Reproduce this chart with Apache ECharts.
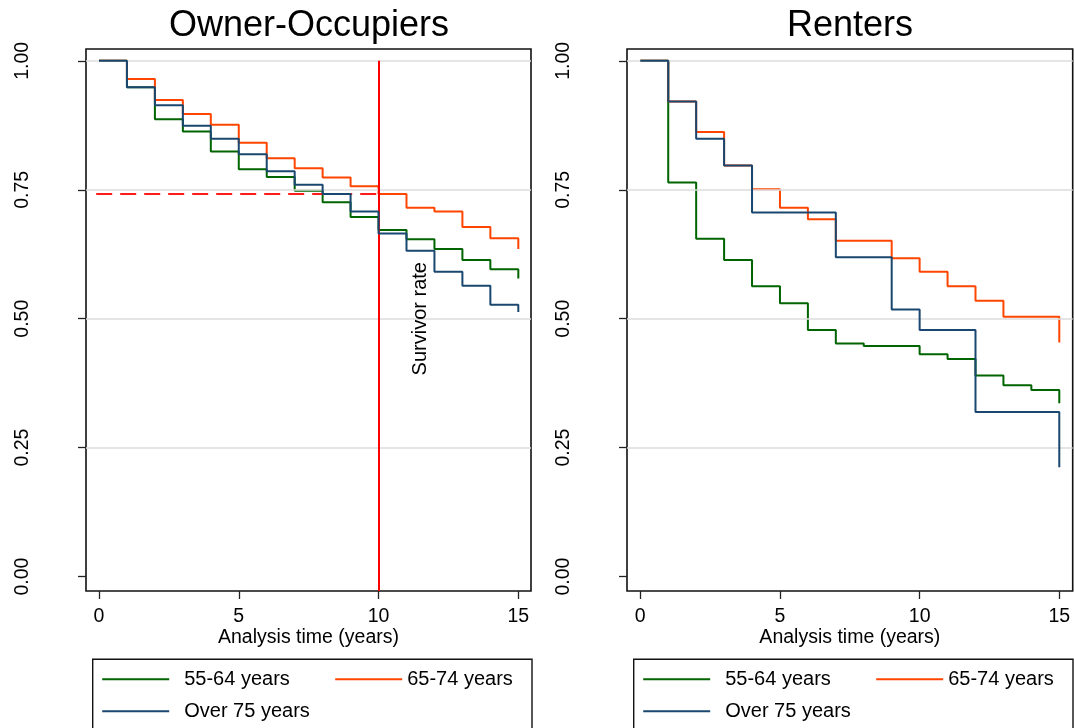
<!DOCTYPE html>
<html>
<head>
<meta charset="utf-8">
<script src="https://cdn.jsdelivr.net/npm/echarts@6/dist/echarts.min.js"></script>
<style>
html,body{margin:0;padding:0;background:#fff;}
#chart{width:1074px;height:728px;}
</style>
</head>
<body>
<div id="chart"></div>
<script>
// ---- data ----
const times = [0,1,2,3,4,5,6,7,8,9,10,11,12,13,14,15];
const groupNames = ['55-64 years','65-74 years','Over 75 years'];
const ownerAge5564 = [1.000,0.949,0.887,0.863,0.824,0.790,0.775,0.748,0.726,0.697,0.672,0.654,0.635,0.614,0.596,0.578];
const ownerAge6574 = [1.000,0.965,0.924,0.897,0.876,0.841,0.811,0.792,0.774,0.757,0.742,0.715,0.708,0.678,0.656,0.635];
const ownerAge75   = [1.000,0.949,0.914,0.874,0.849,0.819,0.786,0.760,0.742,0.708,0.665,0.632,0.591,0.564,0.527,0.513];
const renterAge5564 = [1.000,0.764,0.655,0.614,0.563,0.530,0.478,0.452,0.447,0.447,0.431,0.422,0.390,0.371,0.362,0.336];
const renterAge6574 = [1.000,0.921,0.862,0.797,0.751,0.715,0.693,0.651,0.651,0.617,0.591,0.563,0.535,0.504,0.504,0.454];
const renterAge75   = [1.000,0.921,0.849,0.797,0.706,0.706,0.706,0.619,0.619,0.518,0.478,0.478,0.319,0.319,0.319,0.212];
const xTicks = [0,5,10,15];
const yTicks = [0,0.25,0.5,0.75,1];
const gridValues = [0.25,0.5,0.75,1];
const refTime = 10;
const refRate = 0.742;
const refStart = -0.1;
const noteText = 'Survivor rate';
const notePos = [11.5, 0.5];
const panelTitles = ['Owner-Occupiers','Renters'];
const axisTitle = 'Analysis time (years)';

// ---- styling ----
const FONT = 'Liberation Sans, Arial, Helvetica, sans-serif';
const colors = ['#006400','#ff4500','#1a476f'];
const yMin = -0.028, yMax = 1.023;
const xRanges = [[-0.465, 15.454], [-0.476, 15.48]];
const gridsPx = [{left:86, right:543}, {left:627, right:1.3}];

function pairs(vals){ return times.map((t,i)=>[t, vals[i]]); }

const grids = gridsPx.map(g => ({
  left: g.left, right: g.right, top: 49, bottom: 137,
  show: true, borderColor: '#111', borderWidth: 1.6, backgroundColor: '#fff'
}));

const xAxes = [0,1].map(i => ({
  gridIndex: i, type: 'value', min: xRanges[i][0], max: xRanges[i][1],
  axisLine: {show: false, onZero: false},
  splitLine: {show: false},
  axisTick: {show: true, customValues: xTicks, length: 8, lineStyle: {color: '#222', width: 1.3}},
  axisLabel: {show: true, customValues: xTicks, margin: 16, fontSize: 19.5, color: '#000', fontFamily: FONT},
  name: axisTitle, nameLocation: 'middle', nameGap: 37, nameMoveOverlap: false,
  nameTextStyle: {fontSize: 19.5, color: '#000', fontFamily: FONT}
}));

const yAxes = [0,1].map(i => ({
  gridIndex: i, type: 'value', min: yMin, max: yMax,
  axisLine: {show: false, onZero: false},
  splitLine: {show: false},
  axisTick: {show: true, customValues: yTicks, length: 8, lineStyle: {color: '#222', width: 1.3}},
  axisLabel: {show: true, customValues: yTicks, rotate: 90, margin: 53, fontSize: 19.5, color: '#000',
              fontFamily: FONT, formatter: v => Number(v).toFixed(2)}
}));

const panelData = [[ownerAge5564, ownerAge6574, ownerAge75], [renterAge5564, renterAge6574, renterAge75]];

const series = [];
[0,1].forEach(p => {
  // gridlines
  series.push({
    type: 'line', xAxisIndex: p, yAxisIndex: p, data: [], z: 1, silent: true,
    markLine: {
      silent: true, symbol: ['none','none'], label: {show: false}, animation: false,
      lineStyle: {color: '#dcdcdc', width: 1.6, type: 'solid'},
      data: gridValues.map(v => ({yAxis: v}))
    }
  });
  panelData[p].forEach((vals, k) => {
    series.push({
      name: groupNames[k], type: 'line', step: 'end', xAxisIndex: p, yAxisIndex: p,
      data: pairs(vals), symbol: 'none', showSymbol: false, z: 3 + k,
      lineStyle: {color: colors[k], width: 2}, itemStyle: {color: colors[k]},
      emphasis: {disabled: true}
    });
  });
});

// annotations on owner panel
series.push({
  type: 'line', xAxisIndex: 0, yAxisIndex: 0, data: [], z: 10, silent: true,
  markLine: {
    silent: true, symbol: ['none','none'], label: {show: false}, animation: false,
    data: [
      [{coord: [refTime, yMin], lineStyle: {color: '#ff0000', width: 2, type: 'solid'}}, {coord: [refTime, 1]}],
      [{coord: [refStart, refRate], lineStyle: {color: '#ff1a1a', width: 2, type: [16, 8]}}, {coord: [refTime, refRate]}]
    ]
  },
  markPoint: {
    silent: true, animation: false, symbol: 'circle', symbolSize: 0,
    label: {show: true, position: 'inside', rotate: 90, formatter: noteText, fontSize: 20, color: '#000', fontFamily: FONT},
    data: [{coord: notePos}]
  }
});

function legendFor(left){
  return {
    left: left, top: 669.3, width: 420, orient: 'horizontal', padding: 0,
    itemGap: 12, itemWidth: 67, itemHeight: 2, icon: 'rect', selectedMode: false,
    textStyle: {fontSize: 20, color: '#000', lineHeight: 20, fontFamily: FONT},
    data: [
      {name: groupNames[0], textStyle: {width: 139, padding: [0,0,0,10]}},
      {name: groupNames[1]},
      {name: groupNames[2], textStyle: {width: 139, padding: [0,0,0,10]}}
    ]
  };
}

const option = {
  animation: false,
  backgroundColor: '#fff',
  textStyle: {fontFamily: FONT},
  grid: grids,
  xAxis: xAxes,
  yAxis: yAxes,
  legend: [legendFor(102.2), legendFor(643.2)],
  graphic: [
    {type: 'text', x: 309, y: 26, style: {text: panelTitles[0], fontSize: 36, fill: '#000', align: 'center', verticalAlign: 'middle', fontFamily: FONT}},
    {type: 'text', x: 850, y: 26, style: {text: panelTitles[1], fontSize: 36, fill: '#000', align: 'center', verticalAlign: 'middle', fontFamily: FONT}},
    {type: 'rect', shape: {x: 92.7, y: 659.3, width: 439.3, height: 100}, style: {fill: 'none', stroke: '#111', lineWidth: 1.4}, silent: true},
    {type: 'rect', shape: {x: 633.7, y: 659.3, width: 439.3, height: 100}, style: {fill: 'none', stroke: '#111', lineWidth: 1.4}, silent: true}
  ],
  series: series
};

const chart = echarts.init(document.getElementById('chart'), null, {renderer: 'canvas'});
chart.setOption(option);
</script>
</body>
</html>
